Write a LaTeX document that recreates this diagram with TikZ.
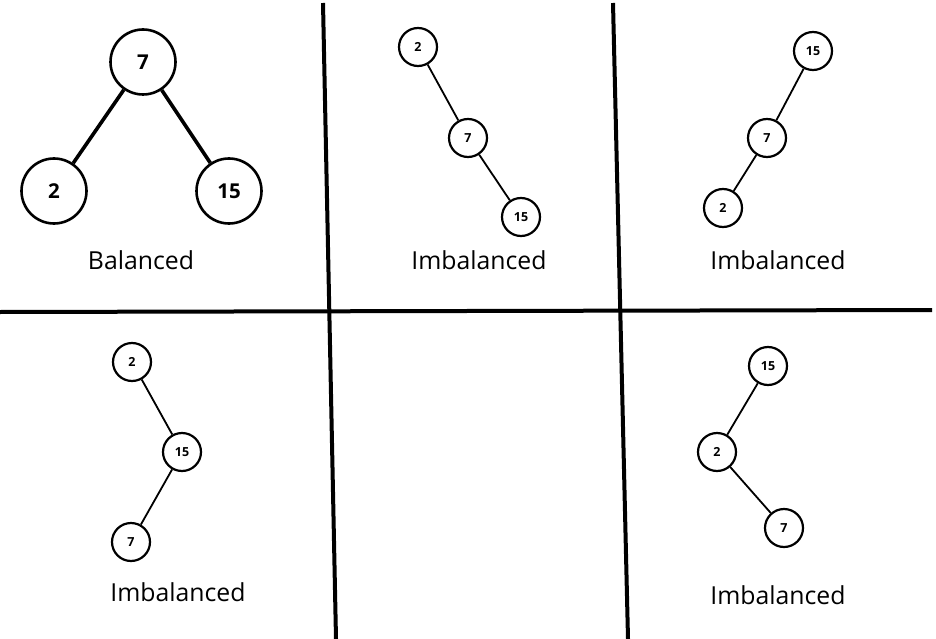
\documentclass[tikz,border=0pt]{standalone}
\usepackage{fontspec}
\setmainfont{Open Sans}
\begin{document}
\begin{tikzpicture}[x=1pt,y=-1pt,
  bignode/.style={circle,draw,line width=2.6pt,minimum size=65pt,inner sep=0pt,font=\fontsize{20.5}{24}\selectfont\bfseries},
  smallnode/.style={circle,draw,line width=2.2pt,minimum size=38pt,inner sep=0pt,font=\fontsize{12.5}{14}\selectfont\bfseries},
  bigedge/.style={line width=3.6pt},
  smalledge/.style={line width=1.8pt},
  divider/.style={line width=4pt},
  caption/.style={font=\fontsize{24.8}{28}\selectfont}]
\useasboundingbox[fill=white] (0,0) rectangle (936,639);
% dividers
\coordinate (hl) at (0,312);
\coordinate (hr) at (932,310);
\coordinate (v1t) at (323,3);
\coordinate (v1b) at (336,639);
\coordinate (v2t) at (613,3);
\coordinate (v2b) at (628,639);
\draw[divider] (hl) -- (hr);
\draw[divider] (v1t) -- (v1b);
\draw[divider] (v2t) -- (v2b);
% panel 1
\node[bignode] (a7) at (143,62) {7};
\node[bignode] (a2) at (54,191) {2};
\node[bignode] (a15) at (229,191) {15};
\draw[bigedge] (a7) -- (a2);
\draw[bigedge] (a7) -- (a15);
\node[caption] (ta) at (141,260) {Balanced};
% panel 2
\node[smallnode] (b2) at (418,47) {2};
\node[smallnode] (b7) at (468,138) {7};
\node[smallnode] (b15) at (521,217) {15};
\draw[smalledge] (b2) -- (b7);
\draw[smalledge] (b7) -- (b15);
\node[caption] (tb) at (479,260) {Imbalanced};
% panel 3
\node[smallnode] (c15) at (813,51) {15};
\node[smallnode] (c7) at (767,138) {7};
\node[smallnode] (c2) at (723,208) {2};
\draw[smalledge] (c15) -- (c7);
\draw[smalledge] (c7) -- (c2);
\node[caption] (tc) at (778,260) {Imbalanced};
% panel 4
\node[smallnode] (d2) at (132,362) {2};
\node[smallnode] (d15) at (182,452) {15};
\node[smallnode] (d7) at (131,542) {7};
\draw[smalledge] (d2) -- (d15);
\draw[smalledge] (d15) -- (d7);
\node[caption] (td) at (178,592) {Imbalanced};
% panel 6
\node[smallnode] (f15) at (768,366) {15};
\node[smallnode] (f2) at (717,452) {2};
\node[smallnode] (f7) at (784,528) {7};
\draw[smalledge] (f15) -- (f2);
\draw[smalledge] (f2) -- (f7);
\node[caption] (tf) at (778,595) {Imbalanced};
\end{tikzpicture}
\end{document}
